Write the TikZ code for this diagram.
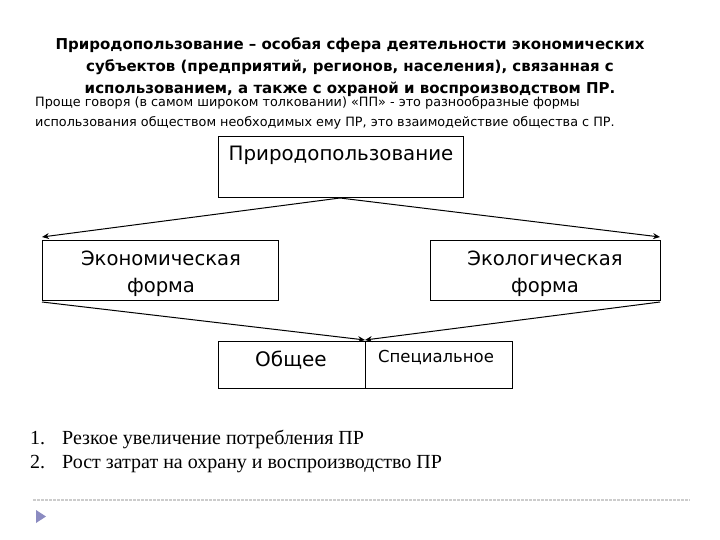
\documentclass[tikz,border=0pt]{standalone}
\usepackage{fontspec}
\usetikzlibrary{arrows.meta}
\setmainfont{DejaVu Sans}
\newfontfamily\tnr{Liberation Serif}
\begin{document}
\begin{tikzpicture}[x=1pt,y=-1pt,
  box/.style={draw,line width=1pt,inner sep=0},
  arr/.style={-{Stealth[length=7pt,width=6pt]},line width=1pt},
  lst/.style={font=\tnr\fontsize{20}{24}\selectfont,anchor=base west},
  every node/.style={inner sep=0}]
\useasboundingbox (0,0) rectangle (720,540);
\node[font=\bfseries\fontsize{15}{22}\selectfont,align=center] (title) at (350,67)
 {Природопользование – особая сфера деятельности экономических\\субъектов (предприятий, регионов, населения), связанная с\\использованием, а также с охраной и воспроизводством ПР.};
\node[font=\fontsize{12.8}{20}\selectfont,align=left,anchor=north west] (para) at (35,96)
 {Проще говоря (в самом широком толковании) «ПП» - это разнообразные формы\\использования обществом необходимых ему ПР, это взаимодействие общества с ПР.};
\draw[box] (218,137) rectangle (463,198);
\node[font=\fontsize{19.8}{20}\selectfont] (pp) at (341,155) {Природопользование};
\coordinate (ppb) at (340,198);
\draw[box] (42,240) rectangle (278,300);
\node[font=\fontsize{19.6}{27}\selectfont,align=center] (eco) at (161,274) {Экономическая\\форма};
\draw[box] (430,240) rectangle (660,300);
\node[font=\fontsize{19.6}{27}\selectfont,align=center] (ecl) at (545,274) {Экологическая\\форма};
\draw[box] (218,341) rectangle (365,388);
\draw[box] (365,341) rectangle (512,388);
\node[font=\fontsize{20}{20}\selectfont] (ob) at (291,360) {Общее};
\node[font=\fontsize{16.5}{16}\selectfont] (sp) at (436,358) {Специальное};
\coordinate (el) at (42,237);
\coordinate (er) at (660,237);
\coordinate (bl) at (42,302);
\coordinate (br) at (660,302);
\coordinate (bt) at (365,340);
\draw[arr] (ppb) -- (el);
\draw[arr] (ppb) -- (er);
\draw[arr] (bl) -- (bt);
\draw[arr] (br) -- (bt);
\node[lst] (l1) at (30,444) {1.};
\node[lst] (l2) at (30,468) {2.};
\node[lst] (t1) at (62,444) {Резкое увеличение потребления ПР};
\node[lst] (t2) at (62,468) {Рост затрат на охрану и воспроизводство ПР};
\draw[gray!40,dash pattern=on 3pt off 1pt,line width=1.2pt] (33,500) -- (690,500);
\fill[blue!30!gray!70] (36,510) -- (46,516.5) -- (36,523) -- cycle;
\end{tikzpicture}
\end{document}
